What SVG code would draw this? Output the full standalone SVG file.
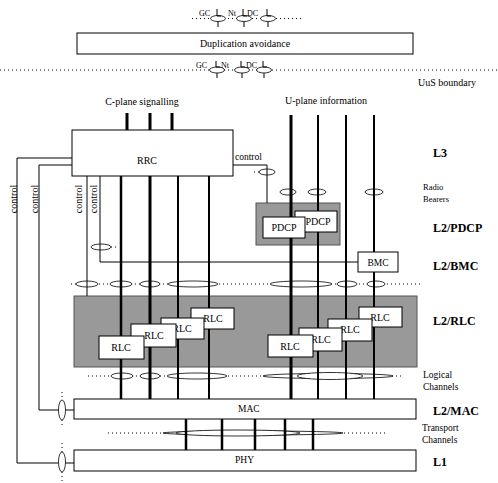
<svg xmlns="http://www.w3.org/2000/svg" width="498" height="483" viewBox="0 0 498 483">
<style>
text{font-family:"Liberation Serif","Times New Roman",serif;fill:#000}
.s{font-size:10px}
.m{font-size:9.5px}
.t{font-size:8px}
.r{font-size:8.5px}
.b{font-size:12px;font-weight:bold}
.c{text-anchor:middle}
.box{fill:#fff;stroke:#000;stroke-width:1}
.gray{fill:#999;stroke:#555;stroke-width:1}
.el{fill:#fff;stroke:#000;stroke-width:0.8}
.dot{stroke:#000;stroke-width:1;stroke-dasharray:1 3;fill:none}
.ln{stroke:#000;fill:none;stroke-width:1}
.w2{stroke-width:2}
.w25{stroke-width:2.5}
.w3{stroke-width:3}
</style>
<rect x="0" y="0" width="498" height="483" fill="#fff"/>

<g id="layer-backgrounds">
  <rect id="pdcp-layer" class="gray" x="256" y="203" width="84" height="42"/>
  <rect id="rlc-layer" class="gray" x="74" y="296" width="343" height="71"/>
</g>

<g id="connectors">
  <g id="dotted">
    <path class="dot" d="M192 18.5H302"/>
    <path class="dot" d="M0 70H498"/>
    <path class="dot" d="M254 172H262"/>
    <path class="dot" d="M111 247H119"/>
    <path class="dot" d="M71 284H422"/>
    <path class="dot" d="M88 376H404"/>
    <path class="dot" d="M108 433H388"/>
    <path class="dot" d="M62 392V400M62 420V427"/>
    <path class="dot" d="M62 443V452M62 472V481"/>
  </g>
  <g id="sap-ellipses">
    <ellipse class="el" cx="218" cy="18.5" rx="7.5" ry="3"/>
    <ellipse class="el" cx="244" cy="18.5" rx="7.5" ry="3"/>
    <ellipse class="el" cx="268" cy="18.5" rx="7.5" ry="3"/>
    <ellipse class="el" cx="217" cy="70" rx="7.5" ry="3"/>
    <ellipse class="el" cx="242" cy="70" rx="7.5" ry="3"/>
    <ellipse class="el" cx="264" cy="70" rx="7.5" ry="3"/>
    <ellipse class="el" cx="267" cy="172" rx="8" ry="3"/>
    <ellipse class="el" cx="288" cy="192" rx="8" ry="3"/>
    <ellipse class="el" cx="317" cy="192" rx="9" ry="3"/>
    <ellipse class="el" cx="374" cy="192" rx="9" ry="3"/>
    <ellipse class="el" cx="101" cy="247" rx="10" ry="3"/>
    <ellipse class="el" cx="87" cy="284" rx="11" ry="3"/>
    <ellipse class="el" cx="121" cy="284" rx="11" ry="3"/>
    <ellipse class="el" cx="150" cy="284" rx="10" ry="3"/>
    <ellipse class="el" cx="193" cy="284" rx="25" ry="3"/>
    <ellipse class="el" cx="301" cy="284" rx="31" ry="3"/>
    <ellipse class="el" cx="347" cy="284" rx="10" ry="3"/>
    <ellipse class="el" cx="376" cy="284" rx="9" ry="3"/>
    <ellipse class="el" cx="122" cy="376" rx="11" ry="3"/>
    <ellipse class="el" cx="150" cy="376" rx="10" ry="3"/>
    <ellipse class="el" cx="197" cy="376" rx="30" ry="3"/>
    <ellipse class="el" cx="328" cy="376" rx="65" ry="2.5"/>
    <ellipse class="el" cx="330" cy="376" rx="33" ry="3.5"/>
    <ellipse class="el" cx="253" cy="433" rx="90" ry="2"/>
    <ellipse class="el" cx="238" cy="433" rx="62" ry="3"/>
  </g>
  <g id="sap-marks">
    <path class="ln" d="M217 9V16H221M218 21.5V27"/>
    <path class="ln" d="M243 9V16H247M244 21.5V27"/>
    <path class="ln" d="M267 9V16H271M268 21.5V27"/>
    <path class="ln" d="M216 61V67H220M217 73V78"/>
    <path class="ln" d="M241 61V67H245M242 73V78"/>
    <path class="ln" d="M263 61V67H267M264 73V78"/>
  </g>
  <g id="channels">
    <path class="ln w3" d="M127 113V130M150 113V130M172 113V130"/>
    <path class="ln w3" d="M291 115V399"/>
    <path class="ln w2" d="M318 115V399M346 115V399M374 115V399"/>
    <path class="ln w25" d="M121 176V399"/>
    <path class="ln w3" d="M150 176V399"/>
    <path class="ln w2" d="M178 176V399M209 176V399"/>
    <path class="ln w25" d="M186 419V450M222 419V450M255 419V450M285 419V450M313 419V450"/>
  </g>
  <g id="control-lines">
    <path class="ln" stroke="#444" d="M87 176V296"/>
    <path class="ln" d="M100 176V262H358"/>
    <path class="ln" d="M233 165H267V203"/>
    <path class="ln" d="M72 158H17V463H58.5M65.5 463H74"/>
    <path class="ln" d="M72 165H39V410H58.5M65.5 410H74"/>
    <ellipse class="el" stroke="#444" cx="62" cy="410" rx="3.5" ry="10"/>
    <ellipse class="el" stroke="#444" cx="62" cy="462" rx="3.5" ry="10"/>
  </g>
</g>

<g id="dup">
  <rect class="box" x="77" y="33" width="336" height="21"/>
  <text class="s c" x="245" y="47">Duplication avoidance</text>
</g>
<g id="rrc">
  <rect class="box" x="72" y="130" width="161" height="46"/>
  <text class="s c" x="147" y="164">RRC</text>
</g>
<g id="pdcp2">
  <rect class="box" x="295" y="211" width="42" height="21"/>
  <text class="s c" x="318" y="225">PDCP</text>
</g>
<g id="pdcp1">
  <rect class="box" x="263" y="217" width="42" height="21"/>
  <text class="s c" x="284" y="231">PDCP</text>
</g>
<g id="bmc">
  <rect class="box" x="358" y="252" width="40" height="20"/>
  <text class="m c" x="378" y="266">BMC</text>
</g>
<g id="rlc4"><rect class="box" x="191" y="308" width="43" height="21"/><text class="s c" x="213" y="322">RLC</text></g>
<g id="rlc3"><rect class="box" x="161" y="318" width="43" height="21"/><text class="s c" x="182" y="332">RLC</text></g>
<g id="rlc2"><rect class="box" x="131" y="324" width="45" height="23"/><text class="s c" x="154" y="339">RLC</text></g>
<g id="rlc1"><rect class="box" x="99" y="336" width="45" height="23"/><text class="s c" x="121" y="351">RLC</text></g>
<g id="rlc8"><rect class="box" x="359" y="307" width="43" height="20"/><text class="s c" x="380" y="321">RLC</text></g>
<g id="rlc7"><rect class="box" x="328" y="319" width="44" height="22"/><text class="s c" x="350" y="333">RLC</text></g>
<g id="rlc6"><rect class="box" x="299" y="328" width="43" height="23"/><text class="s c" x="321" y="343">RLC</text></g>
<g id="rlc5"><rect class="box" x="268" y="335" width="45" height="22"/><text class="s c" x="290" y="350">RLC</text></g>
<g id="mac">
  <rect class="box" x="74" y="399" width="342" height="20"/>
  <text class="m" x="238" y="412">MAC</text>
</g>
<g id="phy">
  <rect class="box" x="74" y="450" width="342" height="21"/>
  <text class="m" x="235" y="463">PHY</text>
</g>

<g id="labels">
  <text class="t" x="199" y="16">GC</text>
  <text class="t" x="228" y="16">Nt</text>
  <text class="t" x="247" y="16">DC</text>
  <text class="t" x="196" y="68">GC</text>
  <text class="t" x="221" y="68">Nt</text>
  <text class="t" x="246" y="68">DC</text>
  <text class="s" x="418" y="86">UuS boundary</text>
  <text class="s c" x="142" y="105">C-plane signalling</text>
  <text class="s c" x="326" y="104">U-plane information</text>
  <text class="m" x="235" y="160">control</text>
  <text class="s c" transform="translate(16.5,199) rotate(-90)">control</text>
  <text class="s c" transform="translate(38,199) rotate(-90)">control</text>
  <text class="s c" transform="translate(82,199) rotate(-90)">control</text>
  <text class="s c" transform="translate(97,199) rotate(-90)">control</text>
  <text class="b" x="433" y="157">L3</text>
  <text class="r" x="423" y="190">Radio</text>
  <text class="r" x="423" y="202">Bearers</text>
  <text class="b" x="433" y="232">L2/PDCP</text>
  <text class="b" x="433" y="270">L2/BMC</text>
  <text class="b" x="433" y="325">L2/RLC</text>
  <text class="m" x="423" y="378">Logical</text>
  <text class="m" x="423" y="390">Channels</text>
  <text class="b" x="433" y="415">L2/MAC</text>
  <text class="m" x="422" y="431">Transport</text>
  <text class="m" x="422" y="443">Channels</text>
  <text class="b" x="433" y="466">L1</text>
</g>
</svg>
